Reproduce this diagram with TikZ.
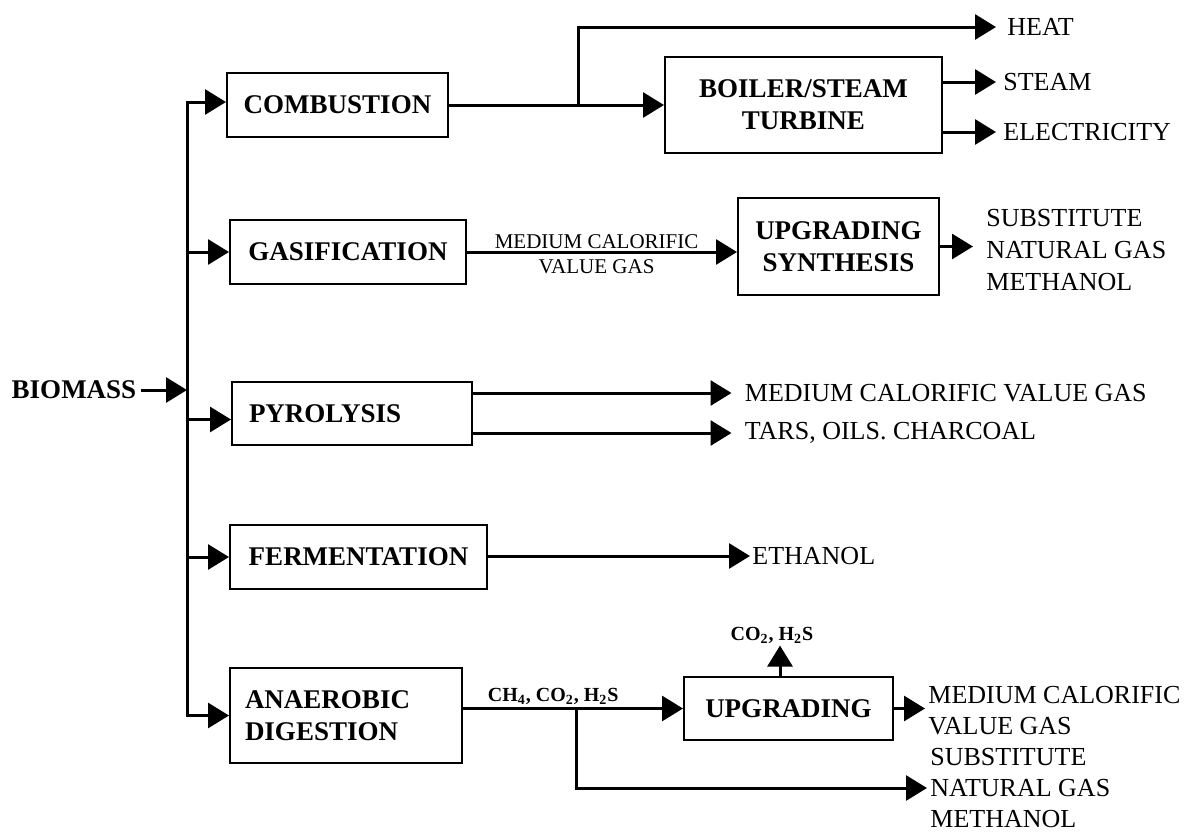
\documentclass[tikz,border=0pt]{standalone}
\usepackage{fontspec}
\setmainfont{Liberation Serif}
\usetikzlibrary{arrows.meta}
\begin{document}
\begin{tikzpicture}[x=0.5pt,y=-0.5pt,
  box/.style={draw, line width=1pt, inner sep=0pt, font=\bfseries\fontsize{13.5}{16}\selectfont, align=center},
  outt/.style={anchor=west, inner ysep=0pt, font=\fontsize{13}{15.5}\selectfont, align=left},
  lab/.style={font=\fontsize{10.5}{12}\selectfont, inner sep=1pt},
  blab/.style={font=\bfseries\fontsize{10}{12}\selectfont, inner sep=1pt},
  flow/.style={line width=1.5pt, -{Triangle[length=10.5pt,width=12.5pt]}}]
\useasboundingbox (0,0) rectangle (1191,836);
% process boxes
\node[box, minimum width=110.5pt, minimum height=32pt] (comb) at (337.5,105) {COMBUSTION};
\node[box, minimum width=118pt, minimum height=32pt] (gas) at (348,252) {GASIFICATION};
\node[box, minimum width=120pt, minimum height=31.5pt, text width=103pt, align=left] (pyro) at (352,413.5) {PYROLYSIS};
\node[box, minimum width=128.5pt, minimum height=32pt] (ferm) at (358.5,557) {FERMENTATION};
\node[box, minimum width=116pt, minimum height=47.5pt, text width=101pt, align=left] (anae) at (346,715.5) {ANAEROBIC\\DIGESTION};
\node[box, minimum width=138.5pt, minimum height=48pt] (boil) at (803.5,105) {BOILER/STEAM\\TURBINE};
\node[box, minimum width=100.5pt, minimum height=48.5pt] (upsyn) at (838.5,246.5) {UPGRADING\\SYNTHESIS};
\node[box, minimum width=104.5pt, minimum height=31.5pt] (upg) at (788.5,708.5) {UPGRADING};
% input
\node[font=\bfseries\fontsize{13.5}{16}\selectfont, inner sep=0pt] (bio) at (74,390) {BIOMASS};
\coordinate (busc) at (187,400);
\draw[flow] ([xshift=2pt]bio.east) -- (bio.east -| busc);
\draw[flow] (busc) |- ([yshift=1.5pt]comb.west);
\draw[flow] (busc) |- (anae.west);
\draw[flow] (gas.west -| busc) -- (gas.west);
\draw[flow] ([yshift=-3pt]pyro.west -| busc) -- ([yshift=-3pt]pyro.west);
\draw[flow] (ferm.west -| busc) -- (ferm.west);
% products
\node[outt, inner xsep=5.5pt] (heat) at (996,27) {HEAT};
\node[outt, inner xsep=3.5pt] (steam) at (996,82) {STEAM};
\node[outt, inner xsep=3.5pt] (elec) at (996,132) {ELECTRICITY};
\node[outt, inner xsep=6.5pt, font=\fontsize{13}{16}\selectfont] (sng1) at (973,250) {SUBSTITUTE\\NATURAL GAS\\METHANOL};
\node[outt, inner xsep=6.5pt] (pmcv) at (731.5,393) {MEDIUM CALORIFIC VALUE GAS};
\node[outt, inner xsep=6.5pt] (ptar) at (731.5,433) {TARS, OILS. CHARCOAL};
\node[outt, inner xsep=1pt] (eth) at (750,556) {ETHANOL};
\node[outt, inner xsep=1.5pt] (mcv2) at (925,711) {MEDIUM CALORIFIC\\VALUE GAS};
\node[outt, inner xsep=1.5pt] (sng2) at (927,788) {SUBSTITUTE\\NATURAL GAS\\METHANOL};
\node[blab] (co2) at (772,635) {CO\textsubscript{2}, H\textsubscript{2}S};
% combustion
\coordinate (split1) at (578,105);
\draw[flow] (comb.east) -- (boil.west);
\draw[flow] (split1) |- (heat.west);
\draw[flow] (boil.east |- steam.west) -- (steam.west);
\draw[flow] (boil.east |- elec.west) -- (elec.west);
% gasification
\draw[flow] (gas.east) -- (gas.east -| upsyn.west)
  node[lab, pos=0.48, above] {MEDIUM CALORIFIC}
  node[lab, pos=0.48, below, yshift=-2pt] {VALUE GAS};
\draw[flow] (upsyn.east) -- (upsyn.east -| sng1.west);
% pyrolysis
\draw[flow] (pyro.east |- pmcv.west) -- (pmcv.west);
\draw[flow] (pyro.east |- ptar.west) -- (ptar.west);
% fermentation
\draw[flow] (ferm.east |- eth.west) -- (eth.west);
% anaerobic digestion
\draw[flow] (anae.east |- upg.west) -- (upg.west)
  node[blab, pos=0.41, above] {CH\textsubscript{4}, CO\textsubscript{2}, H\textsubscript{2}S};
\coordinate (split2) at (576,708.5);
\draw[flow] (split2) |- (sng2.west);
\draw[flow] (upg.east) -- (upg.east -| mcv2.west);
\coordinate (upx) at (780,0);
\draw[flow] (upg.north -| upx) -- (co2.south -| upx);
\end{tikzpicture}
\end{document}
